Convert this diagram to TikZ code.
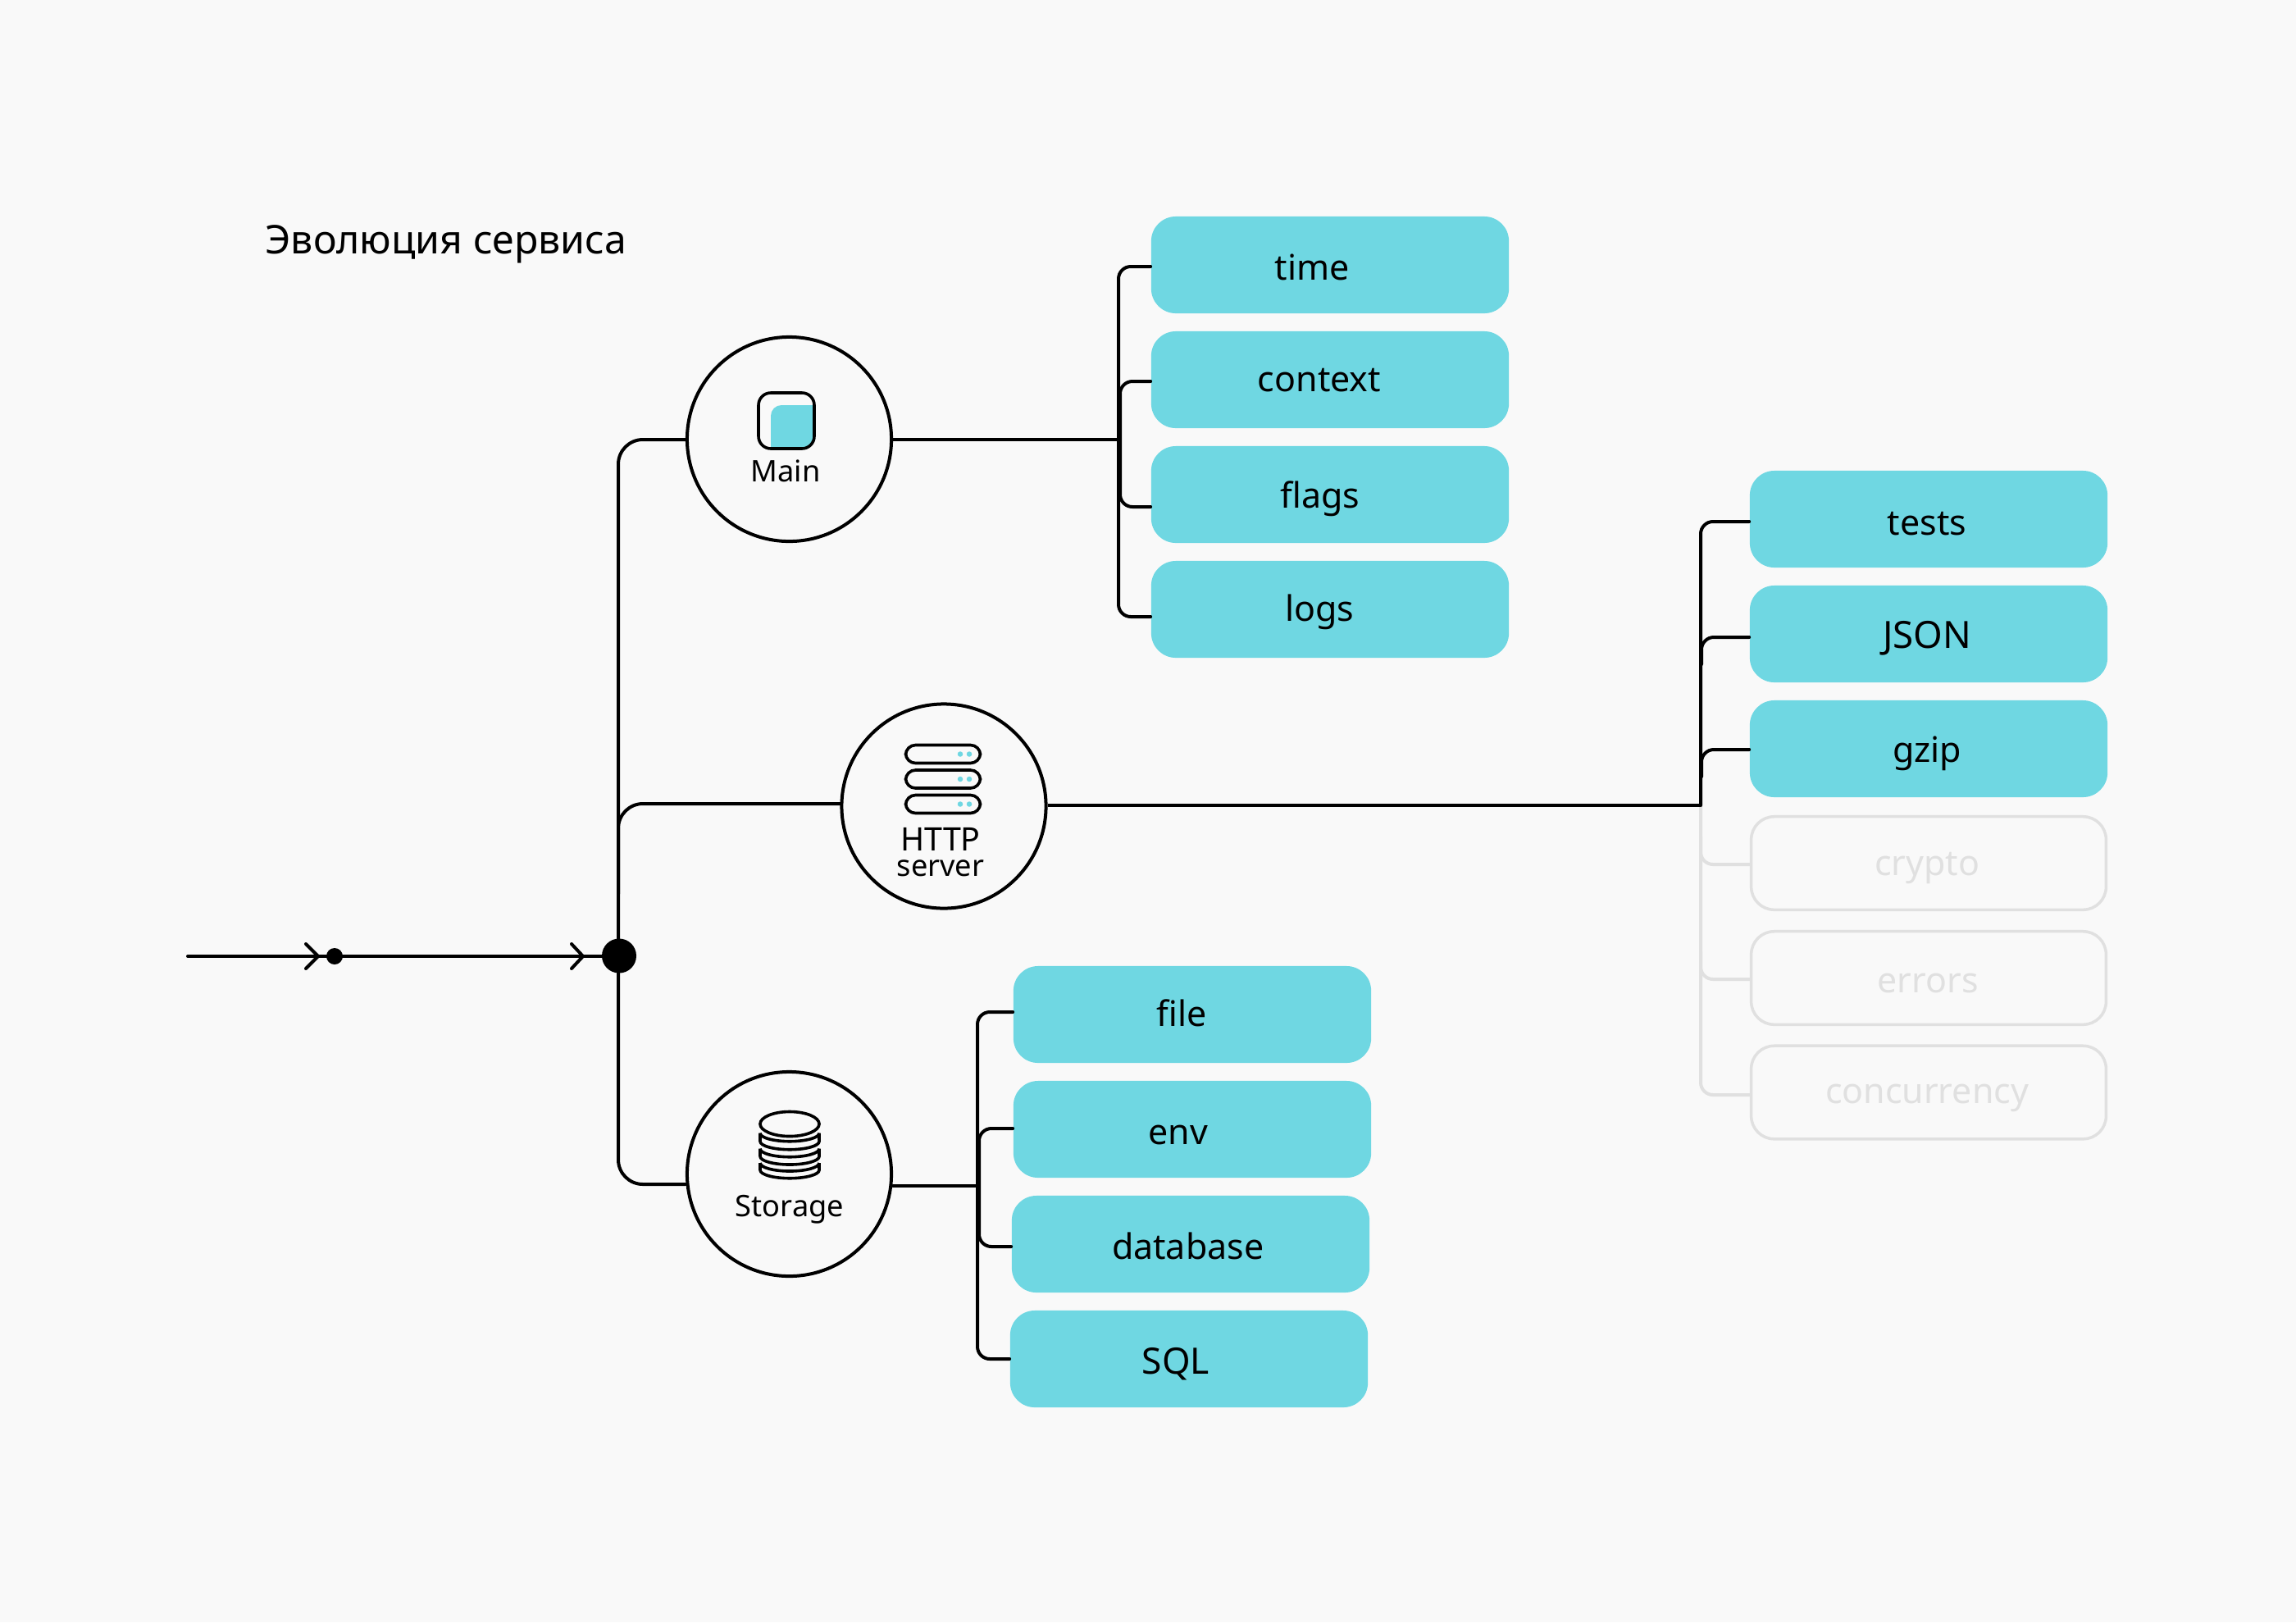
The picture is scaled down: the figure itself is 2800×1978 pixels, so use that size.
\documentclass[tikz,border=0pt]{standalone}
\usepackage{fontspec}
\setmainfont{Noto Sans}
\usetikzlibrary{calc}
\definecolor{bgc}{HTML}{F9F9F9}
\definecolor{cy}{HTML}{6FD7E2}
\definecolor{gr}{HTML}{E0E0E0}
\tikzset{
  x=0.01cm,y=-0.01cm,
  wire/.style={draw=black,line width=0.04cm,line cap=round,line join=round},
  small/.style={wire,rounded corners=0.15cm},
  big/.style={wire,rounded corners=0.3cm},
  gsmall/.style={small,draw=gr},
  cbox/.style={rectangle,rounded corners=0.3cm,fill=cy,minimum width=4.36cm,minimum height=1.18cm,inner sep=0pt},
  gbox/.style={rectangle,rounded corners=0.28cm,draw=gr,line width=0.035cm,minimum width=4.325cm,minimum height=1.135cm,inner sep=0pt},
  hub/.style={circle,draw=black,fill=bgc,line width=0.04cm,minimum size=2.49cm,inner sep=0pt},
  lab/.style={anchor=base,inner sep=0pt,font=\fontsize{12.2}{12.2}\selectfont},
  glab/.style={lab,text=gr},
  slab/.style={anchor=base,inner sep=0pt,font=\fontsize{10.3}{10.3}\selectfont},
  icon/.style={draw=black,line width=0.036cm},
  pill/.style={rectangle,rounded corners=0.12cm,draw=black,line width=0.036cm,minimum width=0.91cm,minimum height=0.22cm,inner sep=0pt},
  sdot/.style={circle,fill=cy,minimum size=0.065cm,inner sep=0pt},
}
\begin{document}
\begin{tikzpicture}
\useasboundingbox[fill=bgc] (0,0) rectangle (2800,1978);

% boxes
\foreach \n/\y in {time/323,context/463,flags/603,logs/743}
  \node[cbox] (\n) at (1622,\y) {};
\foreach \n/\y in {tests/633,json/773,gzip/913}
  \node[cbox] (\n) at (2352,\y) {};
\node[gbox] (crypto) at (2352,1052.5) {};
\node[gbox] (errors) at (2352,1192.5) {};
\node[gbox] (concurrency) at (2352,1332) {};
\node[cbox] (file) at (1454,1237) {};
\node[cbox] (env) at (1454,1377) {};
\node[cbox] (database) at (1452,1517) {};
\node[cbox] (sql) at (1450,1657) {};

% hubs and junctions
\node[circle,fill=black,minimum size=0.42cm,inner sep=0pt] (jbig) at (755,1165.5) {};
\node[circle,fill=black,minimum size=0.2cm,inner sep=0pt] (jsmall) at (408,1166) {};
\coordinate (start) at (229,1166);
\coordinate (trunkTop) at (1364,536);
\coordinate (trunkRight) at (2074,982);
\coordinate (trunkStore) at (1192,1446);

\node[hub] (main) at (962.5,535.5) {};
\node[hub] (http) at (1151,983) {};
\node[hub] (storage) at (962.5,1431.5) {};

\draw[big] ($(main.west)+(0,0.5)$) -- (754,536) -- (754,1444) -- ($(storage.west)+(0,12.5)$);
\draw[big] ($(http.west)+(0,-3)$) -- (754,980) -- (754,1090);
\draw[wire] (start) -- (jbig.west |- start);
\draw[wire] (373,1151) -- (388,1166) -- (373,1181);
\draw[wire] (697,1151) -- (711,1166) -- (697,1181);

% top group
\draw[wire] (main.east |- trunkTop) -- (trunkTop);
\draw[small] ($(time.west)+(0,2)$) -- (1364,325) -- (1364,752) -- ($(logs.west)+(0,9)$);
\draw[small] ($(context.west)+(0,2)$) -- (1366,465) -- (1366,618) -- ($(flags.west)+(0,15)$);

% storage group
\draw[wire] (storage.east |- trunkStore) -- (trunkStore);
\draw[small] ($(file.west)+(0,-3)$) -- (1192,1234) -- (1192,1657) -- (sql.west);
\draw[small] ($(env.west)+(0,-1)$) -- (1194,1376) -- (1194,1520) -- ($(database.west)+(0,3)$);

% gray branches of http group
\draw[gsmall] (trunkRight) -- (2074,1335) -- ($(concurrency.west)+(0,3)$);
\draw[gsmall] (2074,1020) -- (2074,1054) -- ($(crypto.west)+(0,1.5)$);
\draw[gsmall] (2074,1160) -- (2074,1194) -- ($(errors.west)+(0,1.5)$);

% http group
\draw[wire,line cap=butt] (http.east |- trunkRight) -- (trunkRight);
\draw[small] (trunkRight) -- (2074,636) -- ($(tests.west)+(0,3)$);
\draw[small] (2075,810) -- (2075,777) -- ($(json.west)+(0,4)$);
\draw[small] (2075,947) -- (2075,914) -- ($(gzip.west)+(0,1)$);

% hub icons
\begin{scope}
\clip[rounded corners=0.15cm] (925,479) rectangle (993,547);
\fill[cy,rounded corners=0.13cm] (940,494) rectangle (1010,560);
\end{scope}
\draw[icon,rounded corners=0.15cm] (925,479) rectangle (993,547);

\node[pill] (p1) at (1150,919.5) {};
\node[pill] (p2) at (1150,950) {};
\node[pill] (p3) at (1150,980.5) {};
\foreach \p in {p1,p2,p3}{
  \node[sdot] at ($(\p)+(21,0)$) {};
  \node[sdot] at ($(\p)+(32,0)$) {};
}

\draw[icon] (963,1370.5) ellipse [x radius=0.36cm,y radius=0.15cm];
\foreach \c/\d in {1381.7/1391.7,1400.7/1410,1418/1426.7}{
  \draw[icon,line join=round] (927,\c) -- (927,\d) arc[start angle=180,end angle=360,x radius=0.36cm,y radius=0.1cm] -- (999,\c);
  \draw[icon,line join=round] (927,\c) arc[start angle=180,end angle=360,x radius=0.36cm,y radius=0.1cm];
}

% labels
\node[anchor=base west,inner sep=0pt,font=\fontsize{13.7}{13.7}\selectfont] (title) at (323,309) {Эволюция сервиса};
\node[slab] (tmain) at (958,587) {Main};
\node[slab,font=\fontsize{11.2}{11.2}\selectfont] (thttp) at (1147,1037) {HTTP};
\node[slab] (tserver) at (1147,1068) {server};
\node[slab] (tstorage) at (963,1483) {Storage};
\node[lab] (ltime) at (1600,341) {time};
\node[lab] (lcontext) at (1609,477) {context};
\node[lab] (lflags) at (1610,619) {flags};
\node[lab] (llogs) at (1609,757) {logs};
\node[lab] (ltests) at (2350,652) {tests};
\node[lab,font=\fontsize{13}{13}\selectfont] (ljson) at (2350,790) {JSON};
\node[lab] (lgzip) at (2350,929) {gzip};
\node[glab] (lcrypto) at (2350,1067) {crypto};
\node[glab] (lerrors) at (2351,1210) {errors};
\node[glab] (lconc) at (2350,1345.6) {concurrency};
\node[lab] (lfile) at (1441,1251) {file};
\node[lab] (lenv) at (1437,1395.6) {env};
\node[lab] (ldb) at (1448.6,1535.6) {database};
\node[lab,font=\fontsize{12.6}{12.6}\selectfont] (lsql) at (1434,1675.6) {SQL};
\end{tikzpicture}
\end{document}
